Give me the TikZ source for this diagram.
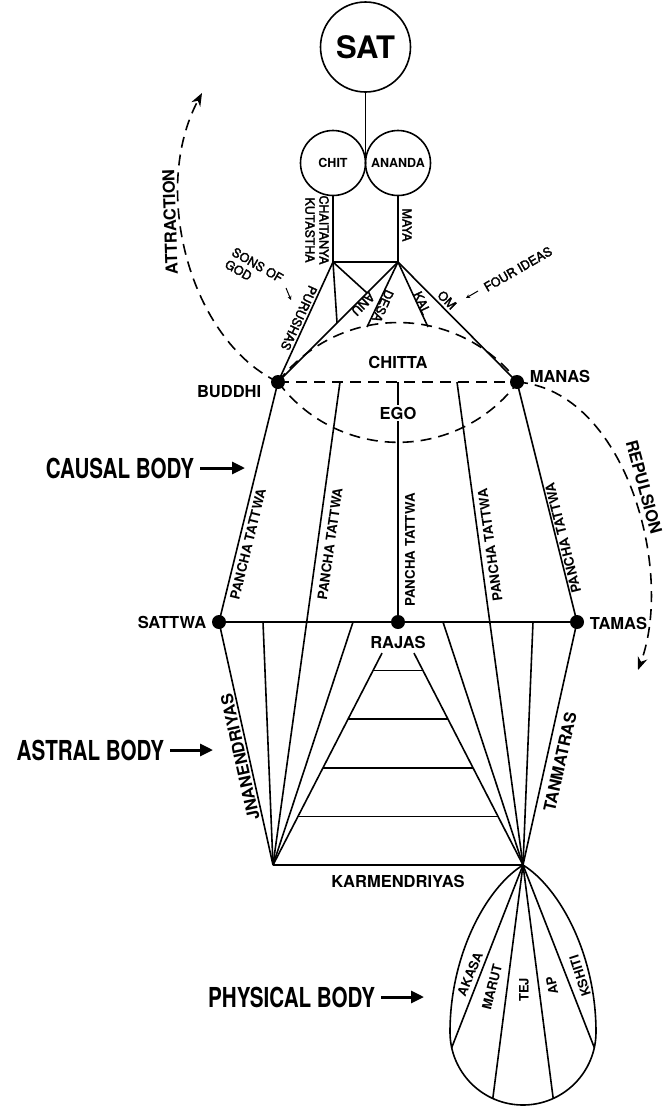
\documentclass[tikz,border=0pt]{standalone}
\usepackage{fontspec}
\setmainfont{TeX Gyre Heros}
\newfontfamily\condfont[FakeStretch=0.75]{TeX Gyre Heros}
\newfontfamily\medfont[FakeBold=2.5]{TeX Gyre Heros}
\usetikzlibrary{arrows.meta,calc}
\begin{document}
\begin{tikzpicture}[x=1pt,y=-1pt,
  line width=1.6pt,
  dsh/.style={dash pattern=on 11pt off 7pt},
  dot/.style={circle,fill=black,minimum size=14pt,inner sep=0pt},
  circ/.style={circle,draw,line width=1.6pt,inner sep=0pt},
  lbl/.style={font=\fontsize{16.5}{18}\selectfont\bfseries,inner sep=1pt},
  sml/.style={font=\medfont\fontsize{12.5}{14}\selectfont,inner sep=0.5pt},
  tatt/.style={font=\fontsize{13.3}{15}\selectfont\bfseries,inner sep=0.5pt},
  elem/.style={font=\fontsize{13}{15}\selectfont\bfseries,inner sep=0.5pt},
  bodylbl/.style={font=\condfont\bfseries\fontsize{27.5}{30}\selectfont,inner sep=0pt},
  barrow/.style={line width=3pt,-{Triangle[length=13pt,width=12pt]}},
  darrow/.style={-{Stealth[length=13pt,width=10pt]}},
  smarrow/.style={line width=1pt,-{Stealth[length=4pt,width=4pt]}}
]
\useasboundingbox (0,0) rectangle (665,1109);

% ---- top circles
\node[circ,minimum size=90pt,font=\fontsize{31}{33}\selectfont\bfseries] (sat) at (365.5,47) {SAT};
\node[circ,minimum size=65pt,font=\fontsize{12.5}{14}\selectfont\bfseries] (chit) at (333,163) {CHIT};
\node[circ,minimum size=65pt,font=\fontsize{12.5}{14}\selectfont\bfseries] (ananda) at (398,163) {ANANDA};
\coordinate (junc) at (365.5,163);
\draw (sat) -- (junc);

% ---- dots
\node[dot] (buddhi) at (278,382) {};
\node[dot] (manas) at (517,382) {};
\node[dot] (sattwa) at (219,622) {};
\node[dot] (rajas) at (398,622) {};
\node[dot] (tamas) at (577,622) {};

% ---- coordinates
\coordinate (tl) at (333,262);
\coordinate (tr) at (398,262);
\coordinate (desaend) at (367,327);
\coordinate (kalend) at (428,327);
\coordinate (p2) at (340,382);
\coordinate (p4) at (457,382);
\coordinate (egotop) at (398,382);
\coordinate (s1) at (263,622);
\coordinate (s2) at (353,622);
\coordinate (s3) at (443,622);
\coordinate (s4) at (533,622);
\coordinate (la) at (273,865);
\coordinate (ra) at (523,865);
\coordinate (tdl) at (450,1032);
\coordinate (t1) at (451.7,1047.6);
\coordinate (t2) at (492.8,1098.5);
\coordinate (t3) at (553.2,1098.5);
\coordinate (t4) at (594.3,1047.6);
\coordinate (attip) at (202,93);
\coordinate (reptip) at (638,670);

% ---- upper structure
\draw (chit) -- (tl) -- (tr) -- (ananda);
\draw (tl) -- (buddhi.center);
\draw (tr) -- (buddhi.center);
\draw (tr) -- (manas.center);
\draw (tl) -- ($(tr)!0.508!(buddhi.center)$);
\draw (tl) -- ($(tr)!0.258!(buddhi.center)$);
\draw (tr) -- (desaend);
\draw (tr) -- (kalend);

% ---- dashed curves
\draw[dsh] (buddhi.center) -- (manas.center);
\draw[dsh] (buddhi.center) arc[start angle=142.7,end angle=37.3,radius=150.9pt];
\draw[dsh] (buddhi.center) arc[start angle=216.6,end angle=323.4,radius=149.4pt];
\draw[dsh,darrow] (buddhi.center) .. controls (190,340) and (150,190) .. (attip);
\draw[dsh,darrow] (manas.center) .. controls (625,390) and (675,570) .. (reptip);

% ---- causal body lines
\draw (buddhi.center) -- (sattwa.center);
\draw (manas.center) -- (tamas.center);
\draw (egotop) -- (rajas.center);
\draw (p2) -- (la);
\draw (p4) -- (ra);
\draw (sattwa.center) -- (tamas.center);

% ---- astral body
\draw (sattwa.center) -- (la);
\draw (s1) -- (la);
\draw (s2) -- (la);
\draw (tamas.center) -- (ra);
\draw (s4) -- (ra);
\draw (s3) -- (ra);
\draw ($(rajas.center)!0.128!(la)$) -- (la);
\draw ($(rajas.center)!0.128!(ra)$) -- (ra);
\foreach \f in {0.2,0.4,0.6,0.8}
  \draw ($(rajas.center)!\f!(la)$) -- ($(rajas.center)!\f!(ra)$);
\draw (la) -- (ra);

% ---- physical body
\draw (ra) .. controls (486,888) and (450,955) .. (tdl)
  arc[start angle=180,end angle=360,radius=73pt]
  .. controls (596,955) and (560,888) .. (ra);
\draw (ra) -- (t1);
\draw (ra) -- (t2);
\draw (ra) -- (t3);
\draw (ra) -- (t4);

% ---- labels
\node[sml,rotate=-90,align=center] (kut) at (317,230) {CHAITANYA\\KUTASTHA};
\node[sml,rotate=-90] (maya) at (407,225) {MAYA};
\node[sml,rotate=-114.6] (purushas) at (299,318) {PURUSHAS};
\node[sml,rotate=-135] (anu) at (363,304) {ANU};
\node[sml,rotate=-114] (desa) at (383,306) {DESA};
\node[sml,rotate=-65] (kal) at (422,303) {KAL};
\node[sml,rotate=-45] (om) at (447,300) {OM};
\node[sml,rotate=-30,align=left] (sons) at (254,271) {SONS OF\\GOD};
\node[sml,rotate=30] (four) at (518,269) {FOUR IDEAS};
\coordinate (sa1) at (286,288);
\coordinate (sa2) at (291,300);
\draw[smarrow] (sa1) -- (sa2);
\coordinate (fa1) at (478,291);
\coordinate (fa2) at (466,298);
\draw[smarrow] (fa1) -- (fa2);

\node[lbl] (chitta) at (398,362) {CHITTA};
\node[lbl,fill=white,inner sep=2pt] (ego) at (398,413) {EGO};
\node[lbl,anchor=east] (buddhil) at (263,392) {BUDDHI};
\node[lbl,anchor=west] (manasl) at (528,376) {MANAS};
\node[lbl,anchor=east] (sattwal) at (208,622) {SATTWA};
\node[lbl,anchor=west] (tamasl) at (588,623) {TAMAS};
\node[lbl] (rajasl) at (398,642) {RAJAS};
\node[lbl] (karm) at (398,881) {KARMENDRIYAS};
\node[lbl,rotate=92] (attr) at (170,222) {ATTRACTION};
\node[lbl,rotate=-74.7] (repul) at (644,487) {REPULSION};
\node[lbl,rotate=102.5] (jnan) at (240,757) {JNANENDRIYAS};
\node[lbl,rotate=77.5] (tanm) at (560,762) {TANMATRAS};

\node[tatt,rotate=76.2] (pt1) at (248,544) {PANCHA TATTWA};
\node[tatt,rotate=82] (pt2) at (330,544) {PANCHA TATTWA};
\node[tatt,rotate=90] (pt3) at (410,550) {PANCHA TATTWA};
\node[tatt,rotate=97.8] (pt4) at (490,545) {PANCHA TATTWA};
\node[tatt,rotate=104] (pt5) at (563,538) {PANCHA TATTWA};

\node[elem,rotate=67] (akasa) at (470,974) {AKASA};
\node[elem,rotate=76] (marut) at (492,987) {MARUT};
\node[elem,rotate=90] (tej) at (524,990) {TEJ};
\node[elem,rotate=101] (ap) at (552,986) {AP};
\node[elem,rotate=108] (kshiti) at (580,976) {KSHITI};

% ---- body labels
\node[bodylbl,anchor=east] (causal) at (195,468) {CAUSAL BODY};
\coordinate (ca) at (245,468);
\draw[barrow,shorten <=5pt] (causal) -- (ca);
\node[bodylbl,anchor=east] (astral) at (165,750) {ASTRAL BODY};
\coordinate (aa) at (213,750);
\draw[barrow,shorten <=5pt] (astral) -- (aa);
\node[bodylbl,anchor=east] (physical) at (376,997) {PHYSICAL BODY};
\coordinate (pa) at (424,997);
\draw[barrow,shorten <=5pt] (physical) -- (pa);
\end{tikzpicture}
\end{document}
